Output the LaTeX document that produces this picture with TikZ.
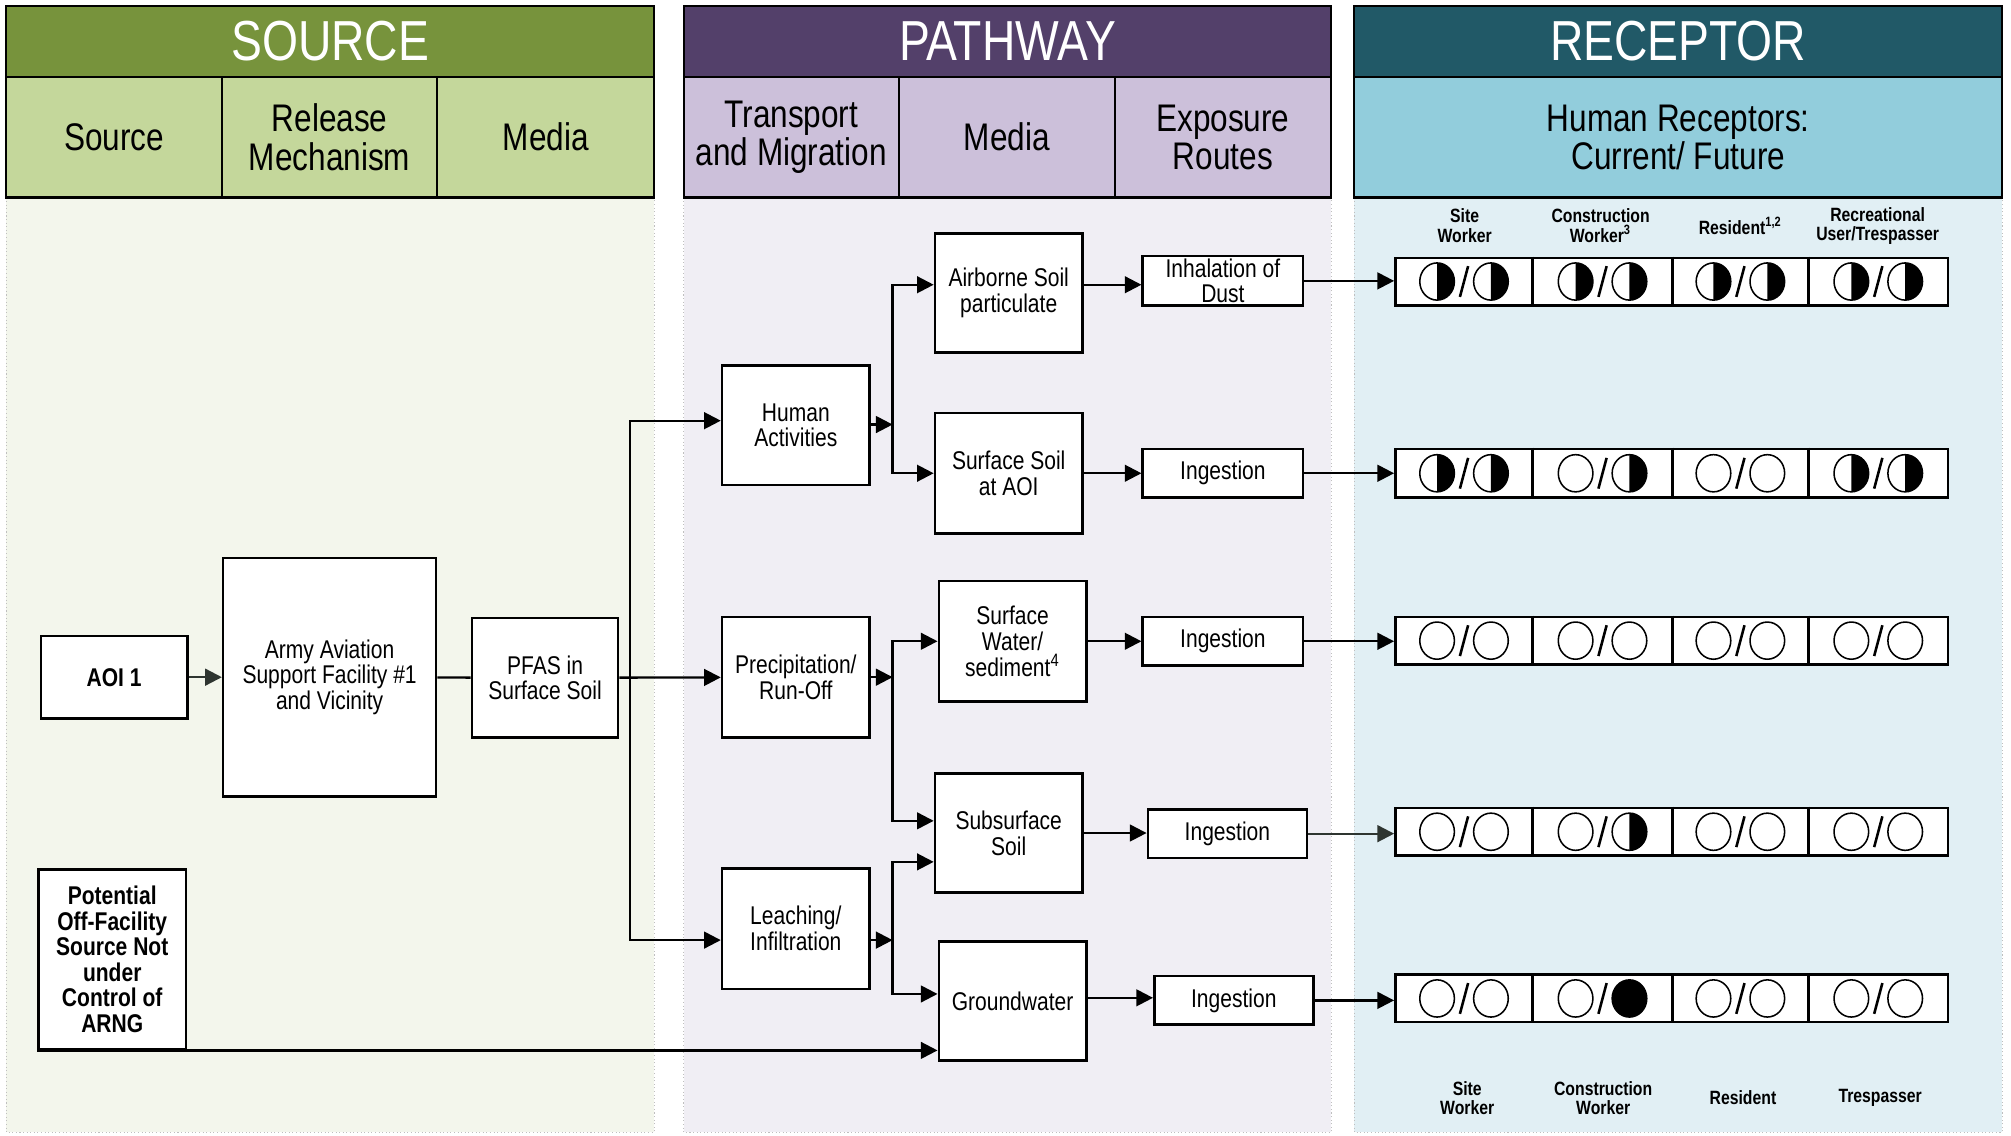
\documentclass[tikz,border=0pt]{standalone}
\usepackage{fontspec}
\setmainfont{Liberation Sans}[FakeStretch=0.82]
\usetikzlibrary{arrows.meta}
\definecolor{srcD}{HTML}{77933C}
\definecolor{srcL}{HTML}{C4D79B}
\definecolor{srcB}{HTML}{F3F6EC}
\definecolor{pthD}{HTML}{53406A}
\definecolor{pthL}{HTML}{CCC0DA}
\definecolor{pthB}{HTML}{F0EEF4}
\definecolor{recD}{HTML}{215967}
\definecolor{recL}{HTML}{92CDDC}
\definecolor{recB}{HTML}{E1EFF4}
\definecolor{dotg}{HTML}{BFBFBF}
\definecolor{arrg}{HTML}{2E3530}
\newcommand\bx[7][]{\node[box,#1,minimum width={(#5-#3)*0.5pt},minimum height={(#6-#4)*0.5pt}] (#2) at ({(#3+#5)/2},{(#4+#6)/2}) {#7};}
\newcommand\rowbx[3]{\node[rowbox,minimum width=215.5pt,minimum height={(#3-#2)*0.5pt}] (#1) at (1303.5,{(#2+#3)/2}) {};
  \foreach \xx in {1195,1304,1410} \draw[line width=0.9pt] (#1.north -| \xx,0) -- (#1.south -| \xx,0);}
\newcommand\symO[2]{\draw[symln] (#1,#2) ellipse [x radius=6.75pt, y radius=7.25pt];}
\newcommand\symH[2]{\fill (#1,#2) ++(0pt,7.25pt) arc[start angle=90,end angle=-90,x radius=6.75pt,y radius=7.25pt] -- cycle;
  \draw[symln] (#1,#2) ellipse [x radius=6.75pt, y radius=7.25pt];}
\newcommand\symF[2]{\filldraw[symln] (#1,#2) ellipse [x radius=6.75pt, y radius=7.25pt];}
\newcommand\cell[4]{\csname sym#3\endcsname{#1-21}{#2}\csname sym#4\endcsname{#1+21}{#2}%
  \draw[line width=1pt] (#1,#2) ++(-1.6pt,-6pt) -- ++(3.2pt,12pt);}
\begin{document}
\begin{tikzpicture}[x=0.5pt,y=-0.5pt,
  box/.style={draw,fill=white,line width=1pt,align=center,inner sep=1pt,font=\fontsize{10}{10}\selectfont},
  boldbox/.style={font=\fontsize{10}{10}\selectfont\bfseries},
  rowbox/.style={draw,fill=white,line width=1pt,inner sep=0pt},
  htitle/.style={text=white,font=\fontsize{22}{22}\selectfont,inner sep=0pt},
  hsub/.style={align=center,font=\fontsize{15}{15}\selectfont,inner sep=0pt},
  rlab/.style={align=center,font=\fontsize{7.5}{7.5}\selectfont\bfseries,inner sep=0pt},
  symln/.style={line width=0.6pt},
  ln/.style={line width=0.9pt},
  arr/.style={line width=0.9pt,-{Triangle[length=6.5pt,width=6.5pt]}}]
\fill[white] (0,0) rectangle (1568,885);
\useasboundingbox (0,0) rectangle (1568,885);
% bodies
\draw[dotg,densely dotted,fill=srcB] (5,154) rectangle (510,883);
\draw[dotg,densely dotted,fill=pthB] (533,154) rectangle (1038,883);
\draw[dotg,densely dotted,fill=recB] (1056,154) rectangle (1561,883);
% SOURCE header
\draw[fill=srcD,line width=0.8pt] (5,5) rectangle (510,60);
\draw[fill=srcL,line width=0.8pt] (5,60) rectangle (510,154);
\draw[line width=0.8pt] (173,60) -- (173,154) (341,60) -- (341,154);
\node[htitle] (hsrc) at (257.5,32) {SOURCE};
\node[hsub] (hs1) at (89,107) {Source};
\node[hsub] (hs2) at (257,107) {Release\\Mechanism};
\node[hsub] (hs3) at (425.5,107) {Media};
% PATHWAY header
\draw[fill=pthD,line width=0.8pt] (533,5) rectangle (1038,60);
\draw[fill=pthL,line width=0.8pt] (533,60) rectangle (1038,154);
\draw[line width=0.8pt] (701,60) -- (701,154) (869,60) -- (869,154);
\node[htitle] (hpth) at (785.5,32) {PATHWAY};
\node[hsub] (hp1) at (617,107) {Transport\\and Migration};
\node[hsub] (hp2) at (785,107) {Media};
\node[hsub] (hp3) at (953.5,107) {Exposure\\Routes};
% RECEPTOR header
\draw[fill=recD,line width=0.8pt] (1056,5) rectangle (1561,60);
\draw[fill=recL,line width=0.8pt] (1056,60) rectangle (1561,154);
\node[htitle] (hrec) at (1308.5,32) {RECEPTOR};
\node[hsub] (hr1) at (1308.5,107) {Human Receptors:\\Current/ Future};
% receptor labels
\node[rlab] (lt1) at (1142,176) {Site\\Worker};
\node[rlab] (lt2) at (1248,176) {Construction\\Worker\textsuperscript{3}};
\node[rlab] (lt3) at (1357,176) {Resident\textsuperscript{1,2}};
\node[rlab] (lt4) at (1464,176) {Recreational\\User/Trespasser};
\node[rlab] (lb1) at (1144,856) {Site\\Worker};
\node[rlab] (lb2) at (1250,856) {Construction\\Worker};
\node[rlab] (lb3) at (1359,856) {Resident};
\node[rlab] (lb4) at (1466,856) {Trespasser};
% boxes
\bx[boldbox]{aoi}{32}{496}{146}{560}{AOI 1}
\bx{army}{174}{435}{340}{621}{Army Aviation\\Support Facility \#1\\and Vicinity}
\bx{pfas}{368}{482}{482}{575}{PFAS in\\Surface Soil}
\bx[boldbox]{off}{30}{678}{145}{818}{Potential\\Off-Facility\\Source Not\\under\\Control of\\ARNG}
\bx{human}{563}{285}{678}{378}{Human\\Activities}
\bx{precip}{563}{481}{678}{575}{Precipitation/\\Run-Off}
\bx{leach}{563}{677}{678}{771}{Leaching/\\Infiltration}
\bx{air}{729}{182}{844}{275}{Airborne Soil\\particulate}
\bx{ssoil}{729}{322}{844}{416}{Surface Soil\\at AOI}
\bx{sw}{732}{453}{847}{547}{Surface\\Water/\\sediment\textsuperscript{4}}
\bx{sub}{729}{603}{844}{696}{Subsurface\\Soil}
\bx{gw}{732}{734}{847}{827}{Groundwater}
\bx{inh}{891}{200}{1016}{238}{Inhalation of\\Dust}
\bx{ing1}{891}{350}{1016}{388}{Ingestion}
\bx{ing2}{891}{481}{1016}{519}{Ingestion}
\bx{ing3}{895}{631}{1019}{669}{Ingestion}
\bx{ing4}{900}{761}{1024}{799}{Ingestion}
% receptor rows
\rowbx{r1}{201}{238}
\rowbx{r2}{350}{388}
\rowbx{r3}{481}{518}
\rowbx{r4}{630}{667}
\rowbx{r5}{760}{797}
\cell{1141.5}{219.5}{H}{H}\cell{1249.5}{219.5}{H}{H}\cell{1357}{219.5}{H}{H}\cell{1464.5}{219.5}{H}{H}
\cell{1141.5}{369}{H}{H}\cell{1249.5}{369}{O}{H}\cell{1357}{369}{O}{O}\cell{1464.5}{369}{H}{H}
\cell{1141.5}{499.5}{O}{O}\cell{1249.5}{499.5}{O}{O}\cell{1357}{499.5}{O}{O}\cell{1464.5}{499.5}{O}{O}
\cell{1141.5}{648.5}{O}{O}\cell{1249.5}{648.5}{O}{H}\cell{1357}{648.5}{O}{O}\cell{1464.5}{648.5}{O}{O}
\cell{1141.5}{778.5}{O}{O}\cell{1249.5}{778.5}{O}{F}\cell{1357}{778.5}{O}{O}\cell{1464.5}{778.5}{O}{O}
% connectors
\draw[arr,arrg] (aoi) -- (army);
\draw[ln] (army) -- (pfas);
\draw[arr] (pfas) -- (precip);
\coordinate (j0) at (491,528);
\draw[arr] (j0) |- (human.west |- 0,328);
\draw[arr] (j0) |- (leach.west |- 0,733);
\coordinate (j1) at (696,331);
\coordinate (j2) at (696,528);
\coordinate (j3) at (696,733);
\draw[arr] (human.east |- j1) -- (j1);
\draw[arr] (j1) |- (air.west |- 0,222);
\draw[arr] (j1) |- (ssoil.west |- 0,369);
\draw[arr] (precip.east |- j2) -- (j2);
\draw[arr] (j2) |- (sw.west |- 0,500);
\draw[arr] (j2) |- (sub.west |- 0,640);
\draw[arr] (leach.east |- j3) -- (j3);
\draw[arr] (j3) |- (sub.west |- 0,672);
\draw[arr] (j3) |- (gw.west |- 0,775);
\draw[arr] (off.south west) -- (off.south west -| gw.west);
\draw[arr] (air.east |- 0,222) -- (inh.west |- 0,222);
\draw[arr] (inh.east) -- (inh.east -| r1.west);
\draw[arr] (ssoil.east) -- (ssoil.east -| ing1.west);
\draw[arr] (ing1.east) -- (ing1.east -| r2.west);
\draw[arr] (sw.east) -- (sw.east -| ing2.west);
\draw[arr] (ing2.east) -- (ing2.east -| r3.west);
\draw[arr] (sub.east) -- (sub.east -| ing3.west);
\draw[arr,arrg] (ing3.east) -- (ing3.east -| r4.west);
\draw[arr] (gw.east |- 0,778) -- (ing4.west |- 0,778);
\draw[arr] (ing4.east) -- (ing4.east -| r5.west);
\end{tikzpicture}
\end{document}
